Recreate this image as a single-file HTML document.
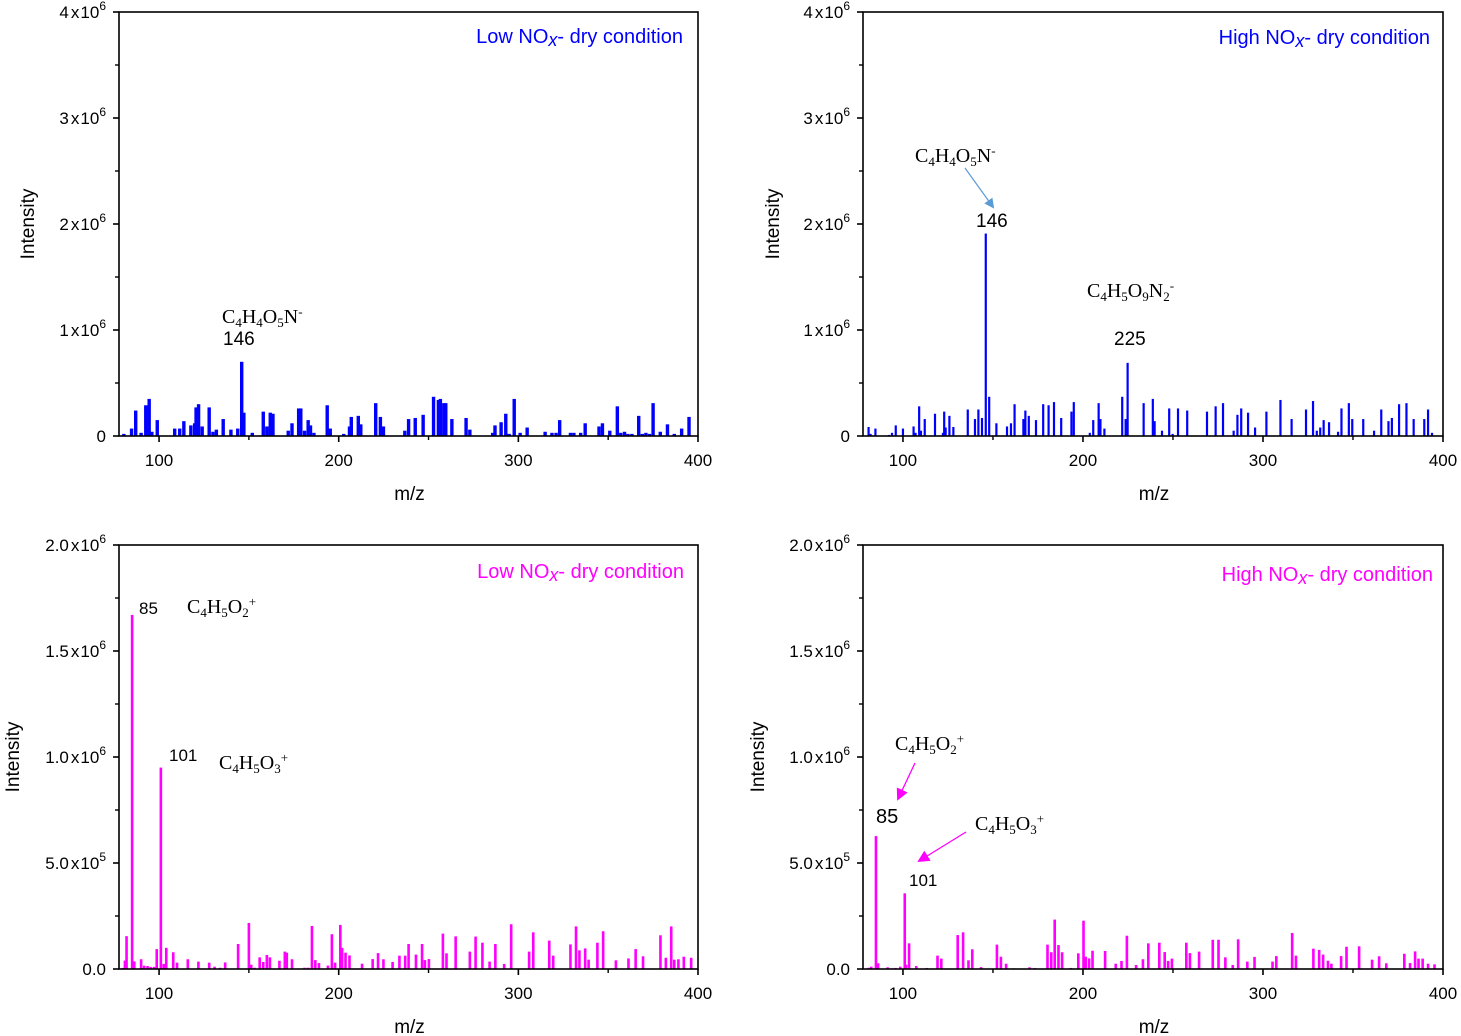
<!DOCTYPE html>
<html><head><meta charset="utf-8">
<style>
html,body{margin:0;padding:0;background:#fff;}
svg{display:block;}
text{font-family:"Liberation Sans",Arial,sans-serif;}
text.ser{font-family:"Liberation Serif","Times New Roman",serif;}
</style></head>
<body>
<svg id="fig" width="1461" height="1036" viewBox="0 0 1461 1036" xmlns="http://www.w3.org/2000/svg"></svg>
<script>
// Panel data (m/z, intensity in units of 1e6)
const mzA = [80.4,84.7,87,90,92.6,94.5,96,99,108.7,111.5,113.8,117.7,119.8,120.6,122,124,127.9,130,131.9,135.7,140,143.8,146,147.2,151.9,158,160,161.9,163.4,171.9,174,177.7,178.9,181,183,184.3,186.2,193.6,195.3,202.8,206,207,210.9,212.3,220.6,223.2,224.9,236.8,238.9,242.6,247,252.8,255.5,256.6,258.5,259.6,263,270.9,273,285.7,287,290.4,293,294.9,297.7,301,304.9,314.9,318.7,321,323,329,330.9,334.7,337.2,344.9,346.8,350.9,355.1,357,359.1,361,363.2,367,369,371,373,375,379,383,386.8,390.9,395];
const intA = [0.02,0.07,0.24,0.03,0.29,0.35,0.04,0.15,0.07,0.07,0.14,0.10,0.12,0.27,0.30,0.09,0.27,0.04,0.06,0.16,0.06,0.07,0.70,0.22,0.03,0.23,0.09,0.22,0.21,0.05,0.12,0.26,0.26,0.05,0.15,0.10,0.03,0.29,0.07,0.02,0.09,0.18,0.19,0.11,0.31,0.18,0.09,0.05,0.16,0.17,0.20,0.37,0.34,0.35,0.31,0.31,0.16,0.17,0.06,0.03,0.10,0.13,0.21,0.02,0.35,0.03,0.08,0.04,0.03,0.03,0.15,0.03,0.03,0.03,0.12,0.09,0.12,0.05,0.28,0.03,0.04,0.02,0.02,0.19,0.02,0.03,0.02,0.31,0.04,0.11,0.02,0.07,0.18];
const mzB = [80.9,82,84.7,92.2,93.9,96,100,105.9,107,109,110,112.1,117.8,122.2,122.9,123.7,125.8,128,136,140,141.9,143.9,146,147.9,151.9,157.8,160,162,166.9,168,169.9,173.9,177.9,180.9,183.9,187.9,193.6,194.9,203.8,205.7,208.7,209.7,211.9,221.8,223.7,224.8,233.7,238.8,239.8,243.9,247.9,249.8,252.8,257.9,268.9,273.7,277.8,283.7,285.8,287.9,291.7,295.6,301.9,309.7,315.9,323.9,327.8,329.9,331.8,333.7,336.7,341.7,343.6,347.7,349.6,355.7,361.7,365.7,369.7,371.6,375.6,379.7,383.7,389.6,391.7,393.9];
const intB = [0.085,0.02,0.07,0.01,0.03,0.10,0.07,0.09,0.03,0.28,0.05,0.16,0.21,0.03,0.23,0.08,0.19,0.085,0.25,0.16,0.25,0.17,1.91,0.37,0.12,0.09,0.12,0.30,0.16,0.24,0.19,0.15,0.30,0.29,0.32,0.17,0.23,0.32,0.03,0.15,0.31,0.16,0.07,0.37,0.16,0.69,0.31,0.35,0.14,0.05,0.26,0.02,0.26,0.24,0.23,0.28,0.31,0.05,0.20,0.26,0.22,0.08,0.23,0.34,0.16,0.25,0.33,0.05,0.08,0.15,0.13,0.04,0.26,0.31,0.16,0.16,0.05,0.25,0.14,0.17,0.30,0.31,0.16,0.16,0.25,0.03];
const mzC = [79.8,81,81.9,85,86.2,90,91.7,93.6,95.3,97.2,98.7,101,102.6,104,107.9,110,116,121.9,127.9,130.9,134,136.8,144,150,151.3,153.2,156,158,160,161.7,167,170,171.1,174,181,183,185.1,187,189,194,196.2,198,200.9,201.9,203.8,206,213,218.9,221.9,224.9,230,233.8,237,238.9,243,246.4,248,250.2,258,260,265.1,273,276.2,280,284,287.2,292.1,296,306,308.3,317.2,319.4,329,332.1,334,337.2,339.1,344,347.2,354.3,361.3,365.3,369.4,379.1,382.1,385.1,386.8,389.1,392.1,396.2];
const intC = [0.005,0.04,0.155,1.67,0.036,0.046,0.016,0.014,0.01,0.01,0.094,0.95,0.024,0.10,0.079,0.03,0.046,0.035,0.03,0.011,0.006,0.031,0.118,0.217,0.02,0.006,0.055,0.033,0.066,0.055,0.039,0.082,0.077,0.046,0.006,0.006,0.203,0.042,0.028,0.016,0.164,0.03,0.208,0.10,0.077,0.064,0.025,0.047,0.075,0.046,0.033,0.063,0.063,0.118,0.068,0.118,0.042,0.047,0.167,0.074,0.154,0.082,0.153,0.124,0.035,0.118,0.024,0.211,0.082,0.173,0.134,0.063,0.116,0.201,0.088,0.097,0.044,0.124,0.178,0.041,0.05,0.094,0.06,0.159,0.053,0.201,0.044,0.046,0.058,0.053];
const mzD = [80.9,82.4,85,86.2,91.5,93.6,95.8,98.5,101,101.7,103.4,107.4,113.3,119.2,121.3,130.4,133.4,136.4,138.5,143.4,152.2,154.4,157.3,161.4,170.3,173.3,180.3,182.4,184.3,186.4,188.4,193.2,197.4,200.3,201.5,203.4,205.3,212.3,218.2,221.4,224.4,229.5,233.3,236.3,242.4,245.4,247.3,249.4,257.4,259.4,264.5,272.1,275.3,279.1,283.2,286.2,291.3,295.3,305.3,307.4,316.2,318.3,328,331.2,333.4,336.1,338,343.4,346.4,353.4,360.6,364.5,368.5,378.5,381.7,384.5,386.4,388.7,391.7,395.3];
const intD = [0.006,0.011,0.627,0.027,0.008,0.003,0.005,0.011,0.357,0.02,0.121,0.014,0.005,0.063,0.049,0.16,0.173,0.041,0.093,0.009,0.115,0.058,0.025,0.003,0.008,0.005,0.115,0.079,0.233,0.113,0.079,0.005,0.074,0.228,0.058,0.05,0.086,0.085,0.025,0.038,0.157,0.019,0.046,0.121,0.124,0.08,0.038,0.049,0.124,0.075,0.082,0.138,0.138,0.055,0.019,0.14,0.035,0.057,0.035,0.061,0.17,0.063,0.096,0.09,0.068,0.039,0.025,0.061,0.105,0.107,0.044,0.06,0.027,0.072,0.028,0.083,0.049,0.049,0.025,0.022];
const xTicks = [100,200,300,400];
const yTicksTop = [0,1,2,3,4];
const yTickLabelsTop = ["0","1x10^6","2x10^6","3x10^6","4x10^6"];
const yTicksBot = [0,0.5,1.0,1.5,2.0];
const yTickLabelsBot = ["0.0","5.0x10^5","1.0x10^6","1.5x10^6","2.0x10^6"];

const NS = "http://www.w3.org/2000/svg";
const svg = document.getElementById('fig');
function el(tag, attrs, parent){ const e=document.createElementNS(NS,tag); for(const k in attrs) e.setAttribute(k,attrs[k]); (parent||svg).appendChild(e); return e; }

function tickLabel(g, x, y, lab){
  const t = el('text',{x:x,y:y,'text-anchor':'end','font-size':17,fill:'#000'},g);
  
  
  const parts = lab.split('^');
  if(parts.length===1){ t.textContent = parts[0]; return; }
  const m = parts[0].split('x');
  const a=el('tspan',{},t); a.textContent=m[0];
  const b=el('tspan',{dx:2},t); b.textContent='x';
  const c=el('tspan',{dx:1},t); c.textContent='10';
  const d=el('tspan',{dy:-8,'font-size':12},t); d.textContent=parts[1];
}

function panel(name, L, R, T, B, xmin, xmax, ymax, mz, inten, color, bw, yTicks, yLabels, ylabX, minorStep){
  const g = el('g',{});
  
  
  const sx = v => L + (v-xmin)/(xmax-xmin)*(R-L);
  const sy = v => B - v/ymax*(B-T);
  for(let i=0;i<mz.length;i++){
    const r = el('rect',{x:(sx(mz[i])-bw/2).toFixed(2), y:sy(inten[i]).toFixed(2), width:bw, height:(B-sy(inten[i])).toFixed(2), fill:color},g);
    
    
  }
  const f = el('rect',{x:L,y:T,width:R-L,height:B-T,fill:'none',stroke:'#000','stroke-width':1.6},g);
  
  
  for(const v of xTicks){
    el('line',{x1:sx(v),x2:sx(v),y1:B,y2:B+6,stroke:'#000','stroke-width':1.6},g);
    const t = el('text',{x:sx(v),y:B+30,'text-anchor':'middle','font-size':17},g);
    
    
    t.textContent = v;
  }
  for(const v of [150,250,350]) el('line',{x1:sx(v),x2:sx(v),y1:B,y2:B+4,stroke:'#000','stroke-width':1.4},g);
  for(let i=0;i<yTicks.length;i++){
    const y = sy(yTicks[i]);
    el('line',{x1:L-6,x2:L,y1:y,y2:y,stroke:'#000','stroke-width':1.6},g);
    tickLabel(g, L-13, y+6, yLabels[i]);
  }
  for(let v=minorStep; v<ymax; v+=2*minorStep){
    el('line',{x1:L-4,x2:L,y1:sy(v),y2:sy(v),stroke:'#000','stroke-width':1.4},g);
  }
  const xl = el('text',{x:(L+R)/2+1,y:B+64,'text-anchor':'middle','font-size':19},g);
  
  
  xl.textContent='m/z';
  const cy=(T+B)/2;
  const yl = el('text',{x:ylabX,y:cy,'text-anchor':'middle','font-size':19,transform:`rotate(-90 ${ylabX} ${cy})`},g);
  
  
  yl.textContent='Intensity';
  return g;
}
panel('panel-low-nox-negative',119,698,12,436,77.7,400,4,mzA,intA,'#0000ff',3.4,yTicksTop,yTickLabelsTop,34,0.5);
panel('panel-high-nox-negative',863,1443,12,436,77.8,400,4,mzB,intB,'#0000ff',2.2,yTicksTop,yTickLabelsTop,779,0.5);
panel('panel-low-nox-positive',119,698,545,969,77.7,400,2,mzC,intC,'#ff00ff',2.6,yTicksBot,yTickLabelsBot,19,0.25);
panel('panel-high-nox-positive',863,1443,545,969,77.8,400,2,mzD,intD,'#ff00ff',2.6,yTicksBot,yTickLabelsBot,764,0.25);
</script>
<svg style="position:absolute;left:0;top:0" width="1461" height="1036">
  <defs>
    <marker id="ab" markerWidth="10" markerHeight="10" refX="8" refY="5" orient="auto" markerUnits="userSpaceOnUse"><path d="M0,0 L10,5 L0,10 z" fill="#5b9bd5"/></marker>
    <marker id="am" markerWidth="12" markerHeight="12" refX="10" refY="6" orient="auto" markerUnits="userSpaceOnUse"><path d="M0,0 L12,6 L0,12 z" fill="#ff00ff"/></marker>
  </defs>
  <text x="683" y="43" text-anchor="end" font-size="20" fill="#0000ff">Low NO<tspan font-style="italic" dy="3" font-size="18">x</tspan><tspan dy="-3">- dry condition</tspan></text>
  <text x="1430" y="44" text-anchor="end" font-size="20" fill="#0000ff">High NO<tspan font-style="italic" dy="3" font-size="18">x</tspan><tspan dy="-3">- dry condition</tspan></text>
  <text x="684" y="578" text-anchor="end" font-size="20" fill="#ff00ff">Low NO<tspan font-style="italic" dy="3" font-size="18">x</tspan><tspan dy="-3">- dry condition</tspan></text>
  <text x="1433" y="581" text-anchor="end" font-size="20" fill="#ff00ff">High NO<tspan font-style="italic" dy="3" font-size="18">x</tspan><tspan dy="-3">- dry condition</tspan></text>

  <text class="ser" x="222" y="323" font-size="20">C<tspan dy="4" font-size="13">4</tspan><tspan dy="-4">H</tspan><tspan dy="4" font-size="13">4</tspan><tspan dy="-4">O</tspan><tspan dy="4" font-size="13">5</tspan><tspan dy="-4">N</tspan><tspan dy="-7" font-size="13">-</tspan></text>
  <text x="223" y="345" font-size="19">146</text>

  <text class="ser" x="915" y="162" font-size="20">C<tspan dy="4" font-size="13">4</tspan><tspan dy="-4">H</tspan><tspan dy="4" font-size="13">4</tspan><tspan dy="-4">O</tspan><tspan dy="4" font-size="13">5</tspan><tspan dy="-4">N</tspan><tspan dy="-7" font-size="13">-</tspan></text>
  <line x1="965" y1="168" x2="993" y2="207" stroke="#5b9bd5" stroke-width="1.2" marker-end="url(#ab)"/>
  <text x="976" y="227" font-size="19">146</text>
  <text class="ser" x="1087" y="297" font-size="20">C<tspan dy="4" font-size="13">4</tspan><tspan dy="-4">H</tspan><tspan dy="4" font-size="13">5</tspan><tspan dy="-4">O</tspan><tspan dy="4" font-size="13">9</tspan><tspan dy="-4">N</tspan><tspan dy="4" font-size="13">2</tspan><tspan dy="-11" font-size="13">-</tspan></text>
  <text x="1114" y="345" font-size="19">225</text>

  <text x="139" y="614" font-size="17">85</text>
  <text class="ser" x="187" y="613" font-size="20">C<tspan dy="4" font-size="13">4</tspan><tspan dy="-4">H</tspan><tspan dy="4" font-size="13">5</tspan><tspan dy="-4">O</tspan><tspan dy="4" font-size="13">2</tspan><tspan dy="-11" font-size="13">+</tspan></text>
  <text x="169" y="761" font-size="17">101</text>
  <text class="ser" x="219" y="769" font-size="20">C<tspan dy="4" font-size="13">4</tspan><tspan dy="-4">H</tspan><tspan dy="4" font-size="13">5</tspan><tspan dy="-4">O</tspan><tspan dy="4" font-size="13">3</tspan><tspan dy="-11" font-size="13">+</tspan></text>

  <text class="ser" x="895" y="750" font-size="20">C<tspan dy="4" font-size="13">4</tspan><tspan dy="-4">H</tspan><tspan dy="4" font-size="13">5</tspan><tspan dy="-4">O</tspan><tspan dy="4" font-size="13">2</tspan><tspan dy="-11" font-size="13">+</tspan></text>
  <line x1="915" y1="763" x2="898" y2="799" stroke="#ff00ff" stroke-width="1.3" marker-end="url(#am)"/>
  <text x="876" y="823" font-size="20">85</text>
  <text class="ser" x="975" y="830" font-size="20">C<tspan dy="4" font-size="13">4</tspan><tspan dy="-4">H</tspan><tspan dy="4" font-size="13">5</tspan><tspan dy="-4">O</tspan><tspan dy="4" font-size="13">3</tspan><tspan dy="-11" font-size="13">+</tspan></text>
  <line x1="966" y1="832" x2="919" y2="861" stroke="#ff00ff" stroke-width="1.3" marker-end="url(#am)"/>
  <text x="909" y="886" font-size="17">101</text>
</svg>
</body></html>
